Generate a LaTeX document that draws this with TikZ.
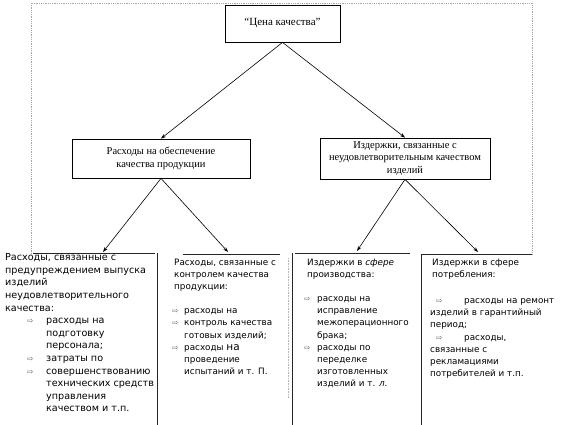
\documentclass[tikz,border=0pt]{standalone}
\usepackage{fontspec}
\setmainfont{Liberation Serif}
\newfontfamily\lsans{DejaVu Sans}
\usetikzlibrary{arrows.meta}
\newcommand\myarr{{\fontsize{7.5}{8}\selectfont\color{black!65}⇨}}
\begin{document}
\begin{tikzpicture}[x=1pt,y=-1pt,
  box/.style={draw=black, line width=0.8pt, inner sep=0pt, align=center,
    font=\fontsize{10.5}{12.3}\selectfont},
  arr/.style={draw=black, line width=0.6pt, -{Stealth[length=5pt,width=3.5pt]}},
  frame/.style={draw=black!35, line width=0.8pt, densely dotted},
  rule/.style={draw=black!85, line width=0.8pt},
  faint/.style={draw=black!30, line width=0.6pt, densely dotted},
  colA/.style={anchor=north west, inner sep=0pt, align=left,
    font=\lsans\fontsize{9.6}{12.6}\selectfont},
  colB/.style={anchor=north west, inner sep=0pt, align=left,
    font=\lsans\fontsize{8.8}{12.2}\selectfont}]
\useasboundingbox (0,0) rectangle (564,425);
% outer frame
\draw[frame] (31,254) -- (31,3) -- (532,3) -- (532,254);
% boxes
\node[box, minimum width=115pt, minimum height=37pt, font=\fontsize{11}{13}\selectfont] (top) at (282.5,23.5) {“Цена качества”};
\node[box, minimum width=178pt, minimum height=39pt] (midL) at (161,158.5)
  {Расходы на обеспечение\\качества продукции};
\node[box, minimum width=170pt, minimum height=41pt] (midR) at (405,158.5)
  {Издержки, связанные с\\неудовлетворительным качеством\\изделий};
\draw[arr] (top.south) -- (midL.north);
\draw[arr] (top.south) -- (midR.north);
% arrow ends on the lower row
\coordinate (e1) at (103,252);
\coordinate (e2) at (228,252);
\coordinate (e3) at (357,251);
\coordinate (e4) at (478,252);
\draw[arr] (midL.south) -- (e1);
\draw[arr] (midL.south) -- (e2);
\draw[arr] (midR.south) -- (e3);
\draw[arr] (midR.south) -- (e4);
% lower row rules
\draw[rule] (33,253) -- (155,253);
\draw[rule] (157,253) -- (157,425);
\draw[rule] (183,254) -- (280,254);
\draw[faint] (288,258) -- (288,398);
\draw[rule] (292,253) -- (292,425);
\draw[rule] (295,253) -- (410,253);
\draw[rule] (421,254) -- (421,425);
\draw[rule] (421,254) -- (532,254);
% lower texts
\node[colA] (c1) at (5,253.5) {Расходы, связанные с\\
предупреждением выпуска\\
изделий\\
неудовлетворительного\\
качества:\\
\hspace*{22pt}\makebox[19pt][l]{\myarr}расходы на\\
\hspace*{41pt}подготовку\\
\hspace*{41pt}персонала;\\
\hspace*{22pt}\makebox[19pt][l]{\myarr}затраты по\\
\hspace*{22pt}\makebox[19pt][l]{\myarr}совершенствованию\\
\hspace*{41pt}технических средств\\
\hspace*{41pt}управления\\
\hspace*{41pt}качеством и т.п.};
\node[colB] (c2) at (172,258.5) {\hspace*{2pt}Расходы, связанные с\\
\hspace*{2pt}контролем качества\\
\hspace*{2pt}продукции:\\[12pt]
\makebox[12pt][l]{\myarr}расходы на\\
\makebox[12pt][l]{\myarr}контроль качества\\
\hspace*{12pt}готовых изделий;\\
\makebox[12pt][l]{\myarr}расходы {\fontsize{10.5}{11}\selectfont на}\\
\hspace*{12pt}проведение\\
\hspace*{12pt}испытаний и т. П.};
\node[colB] (c3) at (304,258.5) {\hspace*{3pt}Издержки в \textit{сфере}\\
\hspace*{3pt}производства:\\[12pt]
\makebox[13pt][l]{\myarr}расходы на\\
\hspace*{13pt}исправление\\
\hspace*{13pt}межоперационного\\
\hspace*{13pt}брака;\\
\makebox[13pt][l]{\myarr}расходы по\\
\hspace*{13pt}переделке\\
\hspace*{13pt}изготовленных\\
\hspace*{13pt}изделий и т. \textit{л.}};
\node[colB] (c4) at (430,258.5) {\hspace*{2pt}Издержки в сфере\\
\hspace*{2pt}потребления:\\[14pt]
\hspace*{6pt}\makebox[28pt][l]{\myarr}расходы на ремонт\\
изделий в гарантийный\\
период;\\
\hspace*{6pt}\makebox[28pt][l]{\myarr}расходы,\\
связанные с\\
рекламациями\\
потребителей и т.п.};
\end{tikzpicture}
\end{document}
